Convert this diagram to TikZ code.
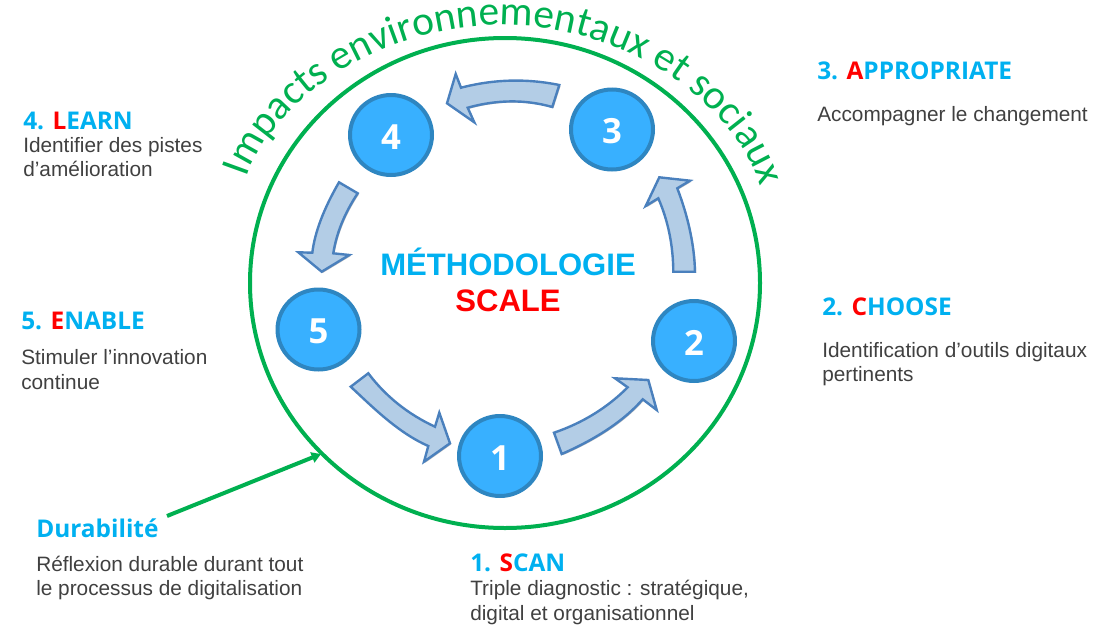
\documentclass[tikz,border=0pt]{standalone}
\usepackage{fontspec}
\setmainfont{Liberation Sans}
\newfontfamily\carlito{Carlito}
\newfontfamily\opensans{Open Sans}
\usetikzlibrary{shapes.geometric,decorations.text,arrows.meta}
\definecolor{skyhead}{HTML}{00B0F0}
\definecolor{leafgreen}{HTML}{00B050}
\definecolor{bodygrey}{HTML}{404040}
\definecolor{discfill}{HTML}{38B0FF}
\definecolor{discline}{HTML}{2E86C1}
\definecolor{bandfill}{HTML}{B3CDE6}
\definecolor{bandline}{HTML}{4A80BD}
\tikzset{
  disc/.style={ellipse,draw=discline,fill=discfill,line width=3pt,inner sep=0pt,minimum width=61.5pt,minimum height=60pt,text=white,text height=21pt,text depth=0pt,font=\opensans\bfseries\fontsize{26}{26}\selectfont},
  band/.style={draw=bandline,fill=bandfill,line width=1.8pt,line join=miter,preaction={draw=none,fill=black,fill opacity=.25,transform canvas={xshift=.9pt,yshift=-.9pt}}},
  headtxt/.style={anchor=base west,inner sep=0pt,text=skyhead,font=\opensans\bfseries\fontsize{18.3}{18.3}\selectfont},
  bodytxt/.style={anchor=base west,inner sep=0pt,text=bodygrey,font=\fontsize{15.6}{15.6}\selectfont},
  titletxt/.style={anchor=base,inner sep=0pt,font=\bfseries\fontsize{23.3}{23.3}\selectfont},
}
\newcommand{\rd}[1]{\textcolor{red}{#1}}
\begin{document}
\begin{tikzpicture}[x=0.75pt,y=-0.75pt]
\useasboundingbox (0,0) rectangle (1096,632);
% outer ring
\node[ellipse,draw=leafgreen,line width=3pt,inner sep=0pt,minimum width=382.5pt,minimum height=367.5pt] (ring) at (505,283) {};
% curved title
\path[decorate,decoration={text along path,text align={fit to path},
  text={|\carlito\fontsize{31}{31}\selectfont\color{leafgreen}|Impacts environnementaux et sociaux}}]
  (247,178) .. controls (268,110) and (370,25) .. (503,25) .. controls (632,25) and (737,110) .. (759,184);
% discs
\node[disc] (n1) at (500,456) {1};
\node[disc] (n2) at (694,341) {2};
\node[disc] (n3) at (612,129.5) {3};
\node[disc] (n4) at (391,135) {4};
\node[disc] (n5) at (318.5,329.5) {5};
% block arrows
\draw[band] (695,271.7) .. controls (694.3,245.2) and (688.4,217.5) .. (677.3,188.3) -- (690,180.7) -- (659.3,177.3) -- (645.7,206) -- (658.3,198.3) .. controls (668.1,220.8) and (673.1,245.2) .. (673.3,271.7) -- cycle;
\draw[band] (559.3,85) .. controls (526.4,78.3) and (493.7,79.2) .. (461,87.7) -- (455.7,74) -- (447,103.3) -- (474.3,122.3) -- (467.7,107.7) .. controls (495.9,99.9) and (524.1,99) .. (552.3,107) -- cycle;
\draw[band] (357.7,193.3) .. controls (344.6,213.1) and (336.4,233.2) .. (333.3,253.3) -- (349.3,255) -- (321.7,271.7) -- (298.3,252.3) -- (312.3,252.7) .. controls (314.8,232.2) and (323.7,208.8) .. (339,182.3) -- cycle;
\draw[band] (368.3,373.3) .. controls (385.7,396.4) and (408,414.2) .. (435,426.7) -- (439.3,412.7) -- (450,443.3) -- (424,461.7) -- (428.3,446) .. controls (397.8,432.7) and (372.1,406.5) .. (350.7,386.7) -- cycle;
\draw[band] (554,432.7) .. controls (582.7,422.9) and (607.2,407.8) .. (627.7,387.3) -- (615,378.3) -- (648.3,380) -- (656.7,410) -- (642.7,399.3) .. controls (620.9,424.4) and (588.7,442.3) .. (561.7,454) -- cycle;
% centre
\node[titletxt,text=skyhead] (methode) at (508,275) {MÉTHODOLOGIE};
\node[titletxt,text=red] (scale) at (508,311) {SCALE};
% labels
\node[headtxt] (h3) at (817,79) {3. \rd{A}PPROPRIATE};
\node[bodytxt] (b3) at (817,121) {Accompagner le changement};
\node[headtxt] (h4) at (23,129) {4. \rd{L}EARN};
\node[bodytxt] (b4a) at (23,152) {Identifier des pistes};
\node[bodytxt] (b4b) at (23,176) {d’amélioration};
\node[headtxt] (h2) at (822,315) {2. \rd{C}HOOSE};
\node[bodytxt] (b2a) at (822,357) {Identification d’outils digitaux};
\node[bodytxt] (b2b) at (822,381) {pertinents};
\node[headtxt] (h5) at (21,329) {5. \rd{E}NABLE};
\node[bodytxt] (b5a) at (21,364) {Stimuler l’innovation};
\node[bodytxt] (b5b) at (21,389) {continue};
\node[headtxt] (hd) at (36,537) {Durabilité};
\node[bodytxt] (bda) at (36,571) {Réflexion durable durant tout};
\node[bodytxt] (bdb) at (36,595) {le processus de digitalisation};
\node[headtxt] (h1) at (470,571) {1. \rd{S}CAN};
\node[bodytxt] (b1a) at (470,595) {Triple diagnostic : stratégique,};
\node[bodytxt] (b1b) at (470,620) {digital et organisationnel};
% connector
\coordinate (dstart) at (167,516);
\coordinate (dend) at (321,454);
\draw[leafgreen,line width=3pt,-{Triangle[length=7pt,width=8pt]}] (dstart) -- (dend);
\end{tikzpicture}
\end{document}
